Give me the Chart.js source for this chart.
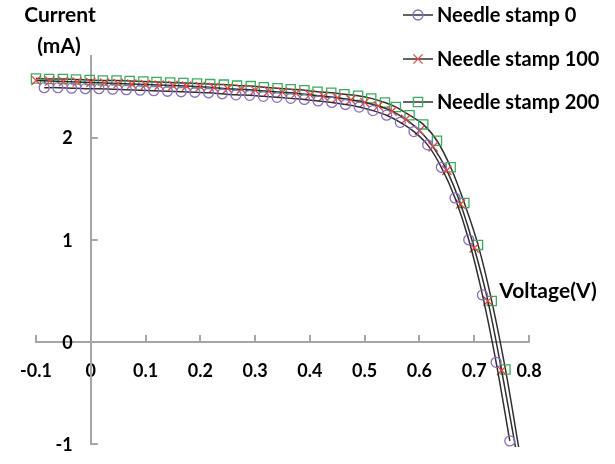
<!DOCTYPE html>
<html>
<head>
<meta charset="utf-8">
<script src="https://cdn.jsdelivr.net/npm/chart.js@4.4.1/dist/chart.umd.min.js"></script>
<style>
  html, body { margin: 0; padding: 0; background: #fff; }
</style>
</head>
<body>
<canvas id="myChart" width="615" height="464"></canvas>
<script>
// series names
const seriesNames = ["Needle stamp 0", "Needle stamp 100", "Needle stamp 200"];

// Needle stamp 0 (circles)
const voltage0 = [-0.085, -0.06, -0.035, -0.01, 0.015, 0.04, 0.065, 0.09, 0.115, 0.14, 0.165, 0.19,
  0.215, 0.24, 0.265, 0.29, 0.315, 0.34, 0.365, 0.39, 0.415, 0.44, 0.465, 0.49, 0.515, 0.54,
  0.565, 0.59, 0.615, 0.64, 0.665, 0.69, 0.715, 0.74, 0.765];
const current0 = [2.49, 2.49, 2.485, 2.48, 2.48, 2.475, 2.47, 2.465, 2.46, 2.455, 2.45, 2.445,
  2.44, 2.43, 2.42, 2.415, 2.405, 2.395, 2.385, 2.375, 2.36, 2.345, 2.325, 2.30, 2.265, 2.22,
  2.15, 2.06, 1.93, 1.71, 1.41, 1.00, 0.46, -0.20, -0.97];

// Needle stamp 100 (crosses)
const voltage100 = [-0.1, -0.075, -0.05, -0.025, 0, 0.025, 0.05, 0.075, 0.1, 0.125, 0.15, 0.175,
  0.2, 0.225, 0.25, 0.275, 0.3, 0.325, 0.35, 0.375, 0.4, 0.425, 0.45, 0.475, 0.5, 0.525,
  0.55, 0.575, 0.6, 0.625, 0.65, 0.675, 0.7, 0.725, 0.75, 0.777];
const current100 = [2.56, 2.555, 2.55, 2.545, 2.54, 2.535, 2.53, 2.525, 2.52, 2.515, 2.51, 2.505,
  2.50, 2.49, 2.48, 2.475, 2.465, 2.455, 2.445, 2.435, 2.42, 2.405, 2.39, 2.37, 2.345, 2.31,
  2.26, 2.18, 2.07, 1.91, 1.68, 1.35, 0.92, 0.40, -0.28, -1.08];

// Needle stamp 200 (squares)
const voltage200 = [-0.1, -0.076, -0.051, -0.027, -0.002, 0.022, 0.047, 0.071, 0.096, 0.12, 0.145, 0.169,
  0.194, 0.218, 0.243, 0.267, 0.292, 0.316, 0.341, 0.365, 0.39, 0.414, 0.439, 0.463, 0.488, 0.512,
  0.537, 0.557, 0.582, 0.607, 0.632, 0.657, 0.682, 0.707, 0.732, 0.757, 0.783];
const current200 = [2.58, 2.575, 2.575, 2.57, 2.565, 2.56, 2.56, 2.555, 2.55, 2.545, 2.54, 2.535,
  2.53, 2.525, 2.52, 2.51, 2.505, 2.495, 2.485, 2.475, 2.465, 2.45, 2.44, 2.425, 2.41, 2.385,
  2.345, 2.30, 2.22, 2.13, 1.97, 1.71, 1.36, 0.95, 0.40, -0.27, -1.09];

// tick labels
const xTicks = [-0.1, 0, 0.1, 0.2, 0.3, 0.4, 0.5, 0.6, 0.7, 0.8];
const xTickLabels = ["-0.1", "0", "0.1", "0.2", "0.3", "0.4", "0.5", "0.6", "0.7", "0.8"];
const yTicks = [-1, 0, 1, 2];
const yTickLabels = ["-1", "0", "1", "2"];

const fontFamily = "Lato, 'Open Sans', sans-serif";
const axisGray = "#a6a6a6";
const lineColor = "rgba(25, 25, 25, 0.9)";
const markerStyles = [
  { pointStyle: "circle", radius: 5, color: "#8a6cc0" },
  { pointStyle: "crossRot", radius: 6.5, color: "#e8453f" },
  { pointStyle: "rect", radius: 6.5, color: "#3aad5e" }
];

function toPoints(xs, ys) {
  return xs.map((x, i) => ({ x: x, y: ys[i] }));
}

const seriesData = [
  toPoints(voltage0, current0),
  toPoints(voltage100, current100),
  toPoints(voltage200, current200)
];

// inward tick marks, y tick labels left of the crossing axis, axis titles, Excel-like legend
const decorations = {
  id: "decorations",
  afterDraw(chart) {
    const ctx = chart.ctx;
    const xs = chart.scales.x;
    const ys = chart.scales.y;
    const x0 = xs.getPixelForValue(0);
    const y0 = ys.getPixelForValue(0);
    ctx.save();
    ctx.strokeStyle = axisGray;
    ctx.lineWidth = 2;
    ctx.beginPath();
    xTicks.forEach(v => {
      const px = Math.round(xs.getPixelForValue(v));
      ctx.moveTo(px, y0);
      ctx.lineTo(px, y0 - 7);
    });
    yTicks.forEach(v => {
      const py = Math.round(ys.getPixelForValue(v));
      ctx.moveTo(x0, py);
      ctx.lineTo(x0 + 7, py);
    });
    ctx.stroke();

    ctx.fillStyle = "#000";
    ctx.textAlign = "right";
    ctx.textBaseline = "middle";
    ctx.font = "bold 18px " + fontFamily;
    yTicks.forEach((v, i) => {
      ctx.fillText(yTickLabels[i], x0 - 18, ys.getPixelForValue(v) + 1);
    });

    ctx.textAlign = "center";
    ctx.font = "bold 21px " + fontFamily;
    ctx.fillText("Current", 60, 15);
    ctx.fillText("(mA)", 59, 46);
    ctx.fillText("Voltage(V)", 548, 291);

    // legend
    const rows = [15, 59, 102];
    chart.data.datasets.forEach((ds, i) => {
      const y = rows[i];
      ctx.strokeStyle = lineColor;
      ctx.lineWidth = 1.5;
      ctx.beginPath();
      ctx.moveTo(403, y);
      ctx.lineTo(433, y);
      ctx.stroke();
      const m = markerStyles[i];
      ctx.strokeStyle = m.color;
      ctx.fillStyle = "rgba(0,0,0,0)";
      ctx.lineWidth = 1.3;
      Chart.helpers.drawPoint(ctx, { pointStyle: m.pointStyle, radius: m.radius, rotation: 0, borderWidth: 1.3 }, 418, y);
      ctx.fillStyle = "#000";
      ctx.textAlign = "left";
      ctx.font = "bold 20px " + fontFamily;
      ctx.fillText(ds.label, 437, y + 1);
    });
    ctx.restore();
  }
};

new Chart(document.getElementById("myChart"), {
  type: "scatter",
  data: {
    datasets: seriesData.map((pts, i) => ({
      label: seriesNames[i],
      data: pts,
      showLine: true,
      tension: 0.35,
      borderColor: lineColor,
      borderWidth: 1.5,
      pointStyle: markerStyles[i].pointStyle,
      pointRadius: markerStyles[i].radius,
      pointBorderColor: markerStyles[i].color,
      pointBackgroundColor: "rgba(0,0,0,0)",
      pointBorderWidth: 1.3,
      clip: { left: 10, right: 10, top: 10, bottom: 3 }
    }))
  },
  options: {
    responsive: false,
    animation: false,
    devicePixelRatio: 1,
    layout: { padding: { left: 36, right: 86, top: 56, bottom: 20 } },
    plugins: {
      legend: { display: false },
      tooltip: { enabled: false }
    },
    scales: {
      x: {
        type: "linear",
        min: -0.1,
        max: 0.8,
        position: { y: 0 },
        afterBuildTicks: scale => { scale.ticks = xTicks.map(v => ({ value: v })); },
        grid: { display: false, drawTicks: false },
        border: { display: true, color: axisGray, width: 2 },
        ticks: {
          padding: 18,
          maxRotation: 0,
          color: "#000",
          font: { family: fontFamily, size: 18, weight: "bold" },
          callback: (v, i) => xTickLabels[i]
        }
      },
      y: {
        type: "linear",
        min: -1,
        max: 2.8,
        position: { x: 0 },
        afterBuildTicks: scale => { scale.ticks = yTicks.map(v => ({ value: v })); },
        grid: { display: false, drawTicks: false },
        border: { display: true, color: axisGray, width: 2 },
        ticks: { display: false }
      }
    }
  },
  plugins: [decorations]
});
</script>
</body>
</html>
